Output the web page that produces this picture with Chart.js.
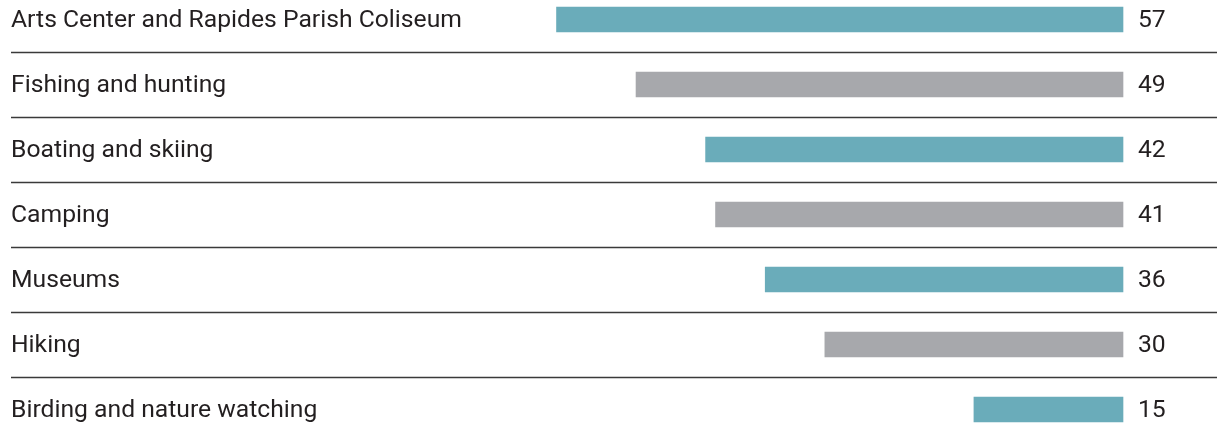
<!DOCTYPE html>
<html>
<head>
<meta charset="utf-8">
<script src="https://cdn.jsdelivr.net/npm/chart.js@4"></script>
<style>
  html, body { margin: 0; padding: 0; background: #fff; }
  #wrap { width: 1217px; height: 438px; position: relative; }
</style>
</head>
<body>
<div id="wrap"><canvas id="myChart"></canvas></div>
<script>
    var categories = [
        'Arts Center and Rapides Parish Coliseum',
        'Fishing and hunting',
        'Boating and skiing',
        'Camping',
        'Museums',
        'Hiking',
        'Birding and nature watching'
    ]
    var values = [57, 49, 42, 41, 36, 30, 15]
    var barColors = ['#6aacba', '#a7a8ac', '#6aacba', '#a7a8ac', '#6aacba', '#a7a8ac', '#6aacba']

    var textFont = '24.7px Roboto'

    // row labels on the left, values on the right, rules between rows
    var rowText = {
        id: 'rowText',
        afterDatasetsDraw: function(chart) {
            var ctx = chart.ctx
            var y = chart.scales.y
            var x = chart.scales.x
            ctx.save()
            ctx.font = textFont
            ctx.fillStyle = '#231f20'
            ctx.textBaseline = 'middle'
            for (var i = 0; i < categories.length; i++) {
                var py = y.getPixelForValue(i)
                ctx.textAlign = 'left'
                ctx.fillText(categories[i], 11, py + 1)
                ctx.fillText(String(values[i]), x.getPixelForValue(0) + 15, py + 1)
            }
            ctx.strokeStyle = '#3a3a3a'
            ctx.lineWidth = 1.3
            for (var j = 0; j < categories.length - 1; j++) {
                var ly = Math.round((y.getPixelForValue(j) + y.getPixelForValue(j + 1)) / 2) + 0.5
                ctx.beginPath()
                ctx.moveTo(11, ly)
                ctx.lineTo(1217, ly)
                ctx.stroke()
            }
            ctx.restore()
        }
    }

    var ctx = document.getElementById('myChart').getContext('2d');
    var myChart = new Chart(ctx, {
        type: 'bar',
        data: {
            labels: categories,
            datasets: [{
                data: values,
                backgroundColor: barColors,
                borderWidth: 0,
                barThickness: 25,
                clip: false
            }]
        },
        options: {
            indexAxis: 'y',
            responsive: true,
            maintainAspectRatio: false,
            animation: false,
            layout: {
                padding: { left: 0, right: 94, top: 19.5, bottom: 28.5 }
            },
            plugins: {
                legend: { display: false },
                tooltip: { enabled: false }
            },
            scales: {
                x: {
                    display: false,
                    reverse: true,
                    min: 0,
                    max: 113
                },
                y: {
                    display: false,
                    offset: false,
                    grid: { offset: false }
                }
            }
        },
        plugins: [rowText]
    });
</script>
</body>
</html>
